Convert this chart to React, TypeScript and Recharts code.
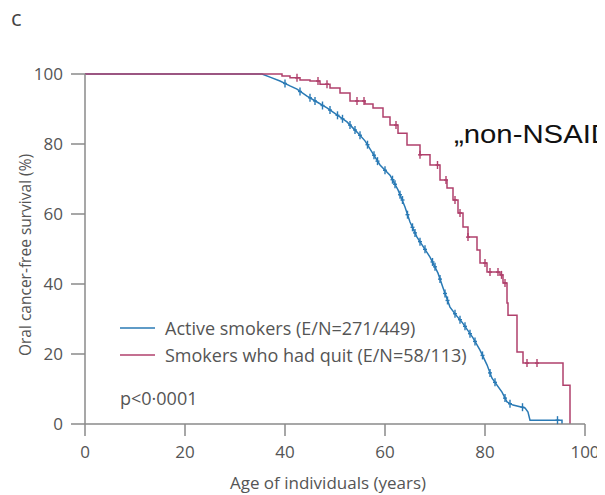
import React from "react";
import { ComposedChart, Line, Scatter, XAxis, YAxis } from "recharts";

// Active smokers (blue) – survival curve vertices (age, %)
const blueAge = [0, 35.4, 37.0, 39.0, 41.0, 42.4, 44.4, 46.4, 48.4, 50.4, 52.4, 54.4, 56.0, 57.4, 59.0, 61.0, 62.6, 64.0, 65.0, 66.4, 69.0, 70.6, 71.6, 73.0, 74.2, 75.4, 77.6, 79.0, 80.4, 81.4, 83.4, 84.4, 85.6, 88.0, 88.6, 89.0, 95.4, 95.4];
const blueSurv = [100, 100, 99.1, 98.0, 96.6, 95.7, 93.7, 92.0, 90.3, 88.3, 86.3, 83.4, 80.9, 77.7, 74.0, 71.1, 66.9, 62.0, 57.7, 53.4, 47.7, 43.1, 38.9, 33.4, 31.1, 29.1, 24.6, 21.1, 16.9, 13.1, 9.1, 6.3, 5.4, 4.6, 3.4, 1.1, 1.1, 0];

// Smokers who had quit (red) – step curve (age where level starts, %)
const redAge = [0, 39.4, 41.0, 43.0, 45.0, 47.0, 49.0, 51.0, 53.0, 56.0, 57.6, 59.6, 61.0, 62.6, 64.4, 67.0, 69.0, 71.0, 72.4, 73.6, 74.6, 75.6, 76.6, 78.4, 79.0, 80.4, 83.0, 83.6, 84.4, 84.6, 86.4, 87.6, 95.6, 97.0];
const redSurv = [100, 99.4, 98.9, 98.3, 98.0, 97.1, 96.0, 94.6, 92.3, 91.4, 90.3, 87.7, 85.4, 83.1, 79.7, 76.9, 74.0, 69.7, 67.4, 64.0, 60.3, 56.3, 53.4, 49.7, 46.0, 43.4, 42.6, 40.3, 34.6, 31.1, 20.6, 17.4, 11.1, 0];

// Censor marks
const blueCensorAge = [40.0, 43.0, 45.0, 46.0, 47.5, 49.0, 50.5, 51.5, 53.0, 54.0, 55.0, 56.5, 57.8, 58.5, 60.0, 61.5, 62.0, 63.0, 63.5, 64.5, 65.5, 66.0, 67.0, 68.0, 69.5, 70.0, 71.0, 72.0, 72.5, 74.0, 75.0, 76.0, 77.0, 78.0, 79.5, 81.0, 82.0, 84.0, 85.0, 87.5, 94.5];
const blueCensorSurv = [97.3, 95.0, 93.2, 92.3, 91.0, 89.7, 88.2, 87.2, 85.4, 84.0, 82.5, 79.8, 76.8, 75.1, 72.5, 69.8, 68.5, 65.5, 64.0, 59.8, 56.2, 54.6, 52.1, 49.9, 46.3, 44.9, 41.4, 37.3, 35.3, 31.5, 29.8, 27.9, 25.8, 23.6, 19.6, 14.6, 11.9, 7.4, 5.8, 4.8, 1.1];
const redCensorAge = [42.4, 46.6, 48.4, 54.4, 55.8, 62.2, 67.0, 70.5, 72.2, 74.0, 75.0, 76.6, 80.0, 81.0, 82.6, 83.3, 84.0, 88.4, 90.4];
const redCensorSurv = [98.9, 98.0, 97.1, 92.3, 92.3, 85.4, 76.9, 74.0, 69.7, 64.0, 60.3, 53.4, 46.0, 43.4, 43.4, 42.6, 40.3, 17.4, 17.4];

const xTicks = [0, 20, 40, 60, 80, 100];
const yTicks = [0, 20, 40, 60, 80, 100];

const BLUE = "#2a7ab5";
const RED = "#b0406c";
const AXIS = "#8a8a8a";
const TEXT = "#555555";
const FONT = "'Open Sans', sans-serif";

const blueData = blueAge.map((a, i) => ({ age: a, s: blueSurv[i] }));
const redData = redAge.map((a, i) => ({ age: a, s: redSurv[i] }));
const blueCensor = blueCensorAge.map((a, i) => ({ age: a, s: blueCensorSurv[i] }));
const redCensor = redCensorAge.map((a, i) => ({ age: a, s: redCensorSurv[i] }));

const makeTick = (color: string) => (props: any) => {
  const { cx, cy } = props;
  if (cx == null || cy == null) return <g />;
  return (
    <g>
      <line x1={cx} x2={cx} y1={cy - 4} y2={cy + 4} stroke={color} strokeWidth={1.4} />
      <line x1={cx - 2} x2={cx + 2} y1={cy} y2={cy} stroke={color} strokeWidth={1.4} />
    </g>
  );
};

export default function App() {
  const W = 597;
  const H = 487;
  return (
    <div style={{ position: "relative", width: W, height: H }}>
      <ComposedChart
        width={W}
        height={H}
        margin={{ top: 66, right: 20, left: 17, bottom: 31 }}
      >
        <XAxis
          type="number"
          dataKey="age"
          domain={[0, 100]}
          ticks={xTicks}
          allowDuplicatedCategory={false}
          height={40}
          tickSize={12}
          tickMargin={10}
          stroke={AXIS}
          strokeWidth={1.5}
          tick={{ fill: TEXT, fontSize: 17, fontFamily: FONT }}
        />
        <YAxis
          type="number"
          dataKey="s"
          domain={[0, 100]}
          ticks={yTicks}
          width={60}
          tickSize={14}
          tickMargin={8}
          stroke={AXIS}
          strokeWidth={1.5}
          tick={{ fill: TEXT, fontSize: 17, fontFamily: FONT }}
        />
        <Line
          data={blueData}
          dataKey="s"
          type="linear"
          stroke={BLUE}
          strokeWidth={1.5}
          dot={false}
          isAnimationActive={false}
        />
        <Line
          data={redData}
          dataKey="s"
          type="stepAfter"
          stroke={RED}
          strokeWidth={1.5}
          dot={false}
          isAnimationActive={false}
        />
        <Scatter data={blueCensor} dataKey="s" shape={makeTick(BLUE)} isAnimationActive={false} />
        <Scatter data={redCensor} dataKey="s" shape={makeTick(RED)} isAnimationActive={false} />
      </ComposedChart>
      <svg
        width={W}
        height={H}
        style={{ position: "absolute", left: 0, top: 0, pointerEvents: "none" }}
      >
        <text x={3} y={18} fontSize={22} fill="#444" fontFamily={FONT}>c</text>
        <text
          transform="translate(17,247) rotate(-90)"
          textAnchor="middle"
          dominantBaseline="central"
          fontSize={15.5}
          fill={TEXT}
          fontFamily={FONT}
        >
          Oral cancer-free survival (%)
        </text>
        <text x={320} y={481} textAnchor="middle" fontSize={17} fill={TEXT} fontFamily={FONT}>
          Age of individuals (years)
        </text>
        <text
          x={446}
          y={135}
          fontSize={25}
          fill="#111"
          fontFamily="'Liberation Sans', sans-serif"
          textLength={158}
          lengthAdjust="spacingAndGlyphs"
        >
          „non-NSAID
        </text>
        <line x1={112} x2={147} y1={320} y2={320} stroke={BLUE} strokeWidth={1.5} />
        <text x={157} y={320} dominantBaseline="central" fontSize={18} fill={TEXT} fontFamily={FONT}>
          Active smokers (E/N=271/449)
        </text>
        <line x1={112} x2={147} y1={347} y2={347} stroke={RED} strokeWidth={1.5} />
        <text x={157} y={347} dominantBaseline="central" fontSize={18} fill={TEXT} fontFamily={FONT}>
          Smokers who had quit (E/N=58/113)
        </text>
        <text x={112} y={390} dominantBaseline="central" fontSize={18} fill={TEXT} fontFamily={FONT}>
          p&lt;0·0001
        </text>
      </svg>
    </div>
  );
}
